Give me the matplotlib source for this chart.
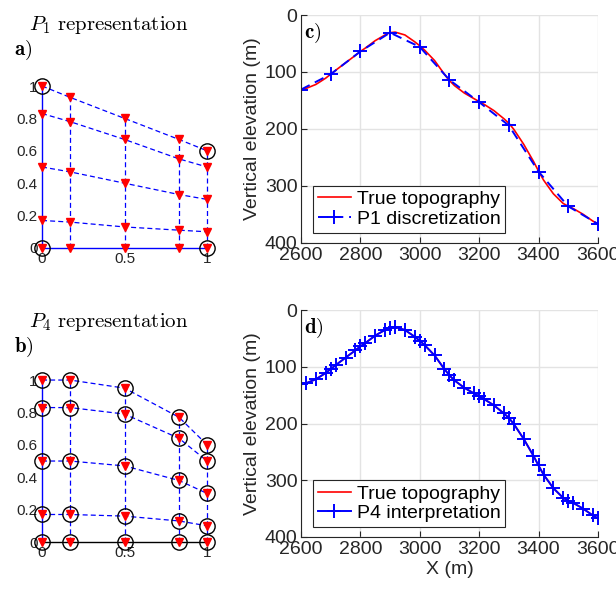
import matplotlib
matplotlib.use("Agg")
import matplotlib.pyplot as plt

plt.rcParams['font.family'] = ['Liberation Sans', 'DejaVu Sans']
plt.rcParams['mathtext.fontset'] = 'cm'

# reference element nodes (x positions of the columns)
xi_nodes = [0, 0.17, 0.5, 0.83, 1]

# node heights, one row per level (bottom to top)
p1_y = [[0.00, 0.00, 0.00, 0.00, 0.00],
        [0.17, 0.16, 0.13, 0.11, 0.10],
        [0.50, 0.47, 0.40, 0.33, 0.30],
        [0.83, 0.78, 0.67, 0.55, 0.50],
        [1.00, 0.93, 0.80, 0.67, 0.60]]
p4_y = [[0.00, 0.00, 0.00, 0.00, 0.00],
        [0.17, 0.17, 0.16, 0.13, 0.10],
        [0.50, 0.50, 0.47, 0.38, 0.30],
        [0.83, 0.83, 0.79, 0.64, 0.50],
        [1.00, 1.00, 0.95, 0.77, 0.60]]

# topography (m)
x_p1 = [2600, 2700, 2800, 2900, 3000, 3100, 3200, 3300, 3400, 3500, 3600]
z_p1 = [131, 104, 64, 31, 56, 114, 153, 194, 275, 336, 367]

x_p4 = [2600, 2617, 2650, 2683, 2700, 2717, 2750, 2783, 2800, 2817, 2850,
        2883, 2900, 2917, 2950, 2983, 3000, 3017, 3050, 3083, 3100, 3117,
        3150, 3183, 3200, 3217, 3250, 3283, 3300, 3317, 3350, 3383, 3400,
        3417, 3450, 3483, 3500, 3517, 3550, 3583, 3600]
z_true = [131, 129, 122, 111, 104, 97, 84, 71, 64, 58, 45,
          35, 31, 30, 35, 47, 54, 62, 80, 104, 115, 124,
          137, 147, 152, 157, 168, 182, 190, 201, 227, 257, 274,
          290, 314, 331, 336, 340, 350, 362, 367]
z_p4 = [131, 129, 122, 111, 104, 97, 84, 71, 64, 58, 45,
        35, 31, 30, 35, 47, 54, 62, 80, 104, 115, 124,
        137, 147, 152, 157, 168, 182, 190, 201, 227, 257, 274,
        290, 314, 331, 336, 340, 350, 362, 367]

fig = plt.figure(figsize=(6.16, 5.94), dpi=100)
gray = '#262626'


def draw_mesh(ax, ys, circled, bottom_color):
    n = len(xi_nodes)
    # vertical lines
    for i in range(n):
        col = [row[i] for row in ys]
        if i == 0:
            ax.plot([xi_nodes[i]] * len(col), col, color='b', lw=1.0,
                    clip_on=False)
        else:
            ax.plot([xi_nodes[i]] * len(col), col, color='b', ls='--',
                    lw=0.9, dashes=(4, 2.5), clip_on=False)
    # rows
    for j, row in enumerate(ys):
        if j == 0:
            ax.plot(xi_nodes, row, color=bottom_color, lw=1.0, clip_on=False)
        else:
            ax.plot(xi_nodes, row, color='b', ls='--', lw=0.9,
                    dashes=(4, 2.5), clip_on=False)
    for row in ys:
        ax.plot(xi_nodes, row, 'v', color='red', ms=6, mec='red',
                clip_on=False, zorder=4)
    for (i, j) in circled:
        ax.plot(xi_nodes[i], ys[j][i], 'o', mfc='none', mec='k', ms=11,
                mew=1.0, clip_on=False, zorder=5)
    ax.set_xlim(0, 1)
    ax.set_ylim(0, 1)
    for s in ax.spines.values():
        s.set_visible(False)
    ax.set_xticks([0, 0.5, 1])
    ax.set_xticklabels(['0', '0.5', '1'])
    ax.set_yticks([0, 0.2, 0.4, 0.6, 0.8, 1])
    ax.set_yticklabels(['0', '0.2', '0.4', '0.6', '0.8', '1'])
    ax.tick_params(length=0, labelsize=11, colors=gray, pad=3)


# panel a
ax_a = fig.add_axes([0.0682, 0.5825, 0.268, 0.2727])
draw_mesh(ax_a, p1_y, [(0, 0), (0, 4), (4, 4), (4, 0)], 'b')
fig.text(0.176, 0.958, r'$P_1\ \mathrm{representation}$', ha='center',
         va='center', fontsize=15)
fig.text(0.022, 0.915, r'$\mathbf{a)}$', ha='left', va='center', fontsize=15)

# panel b
ax_b = fig.add_axes([0.0682, 0.0875, 0.268, 0.2727])
draw_mesh(ax_b, p4_y, [(i, j) for i in range(5) for j in range(5)], 'k')
fig.text(0.176, 0.458, r'$P_4\ \mathrm{representation}$', ha='center',
         va='center', fontsize=15)
fig.text(0.022, 0.415, r'$\mathbf{b)}$', ha='left', va='center', fontsize=15)


def style_topo(ax, letter):
    ax.set_xlim(2600, 3600)
    ax.set_ylim(400, 0)
    ax.set_xticks([2600, 2800, 3000, 3200, 3400, 3600])
    ax.set_yticks([0, 100, 200, 300, 400])
    ax.grid(True, color='#e3e3e3', lw=1.0)
    ax.set_axisbelow(True)
    ax.spines['top'].set_visible(False)
    ax.spines['right'].set_visible(False)
    for s in ('left', 'bottom'):
        ax.spines[s].set_color(gray)
        ax.spines[s].set_linewidth(0.8)
    ax.tick_params(direction='in', length=4, width=0.8, labelsize=14,
                   colors=gray)
    ax.tick_params(axis='y', pad=2.5)
    ax.tick_params(axis='x', pad=3)
    ax.set_ylabel('Vertical elevation (m)', fontsize=14, color=gray, labelpad=3)
    ax.text(0.01, 0.92, r'$\mathbf{' + letter + ')}$', transform=ax.transAxes,
            fontsize=15, ha='left', va='center')
    leg = ax.legend(loc='lower left', bbox_to_anchor=(0.04, 0.044),
                    borderaxespad=0, fontsize=14, handlelength=1.7,
                    handletextpad=0.3, labelspacing=0.1, borderpad=0.25,
                    fancybox=False, framealpha=1)
    leg.get_frame().set_edgecolor(gray)
    leg.get_frame().set_linewidth(0.8)


# panel c
ax_c = fig.add_axes([0.4886, 0.5914, 0.482, 0.3833])
ax_c.plot(x_p4, z_true, color='red', lw=1.2, label='True topography')
ax_c.plot(x_p1, z_p1, color='b', ls='--', lw=1.4, dashes=(5, 3), marker='+',
          ms=10, mew=1.4, label='P1 discretization')
style_topo(ax_c, 'c')

# panel d
ax_d = fig.add_axes([0.4886, 0.096, 0.482, 0.382])
ax_d.plot(x_p4, z_true, color='red', lw=1.2, label='True topography')
ax_d.plot(x_p4, z_p4, color='b', lw=1.4, marker='+', ms=10, mew=1.4,
          label='P4 interpretation')
style_topo(ax_d, 'd')
ax_d.set_xlabel('X (m)', fontsize=14, color=gray, labelpad=2)

fig.savefig('out.png', dpi=100)
